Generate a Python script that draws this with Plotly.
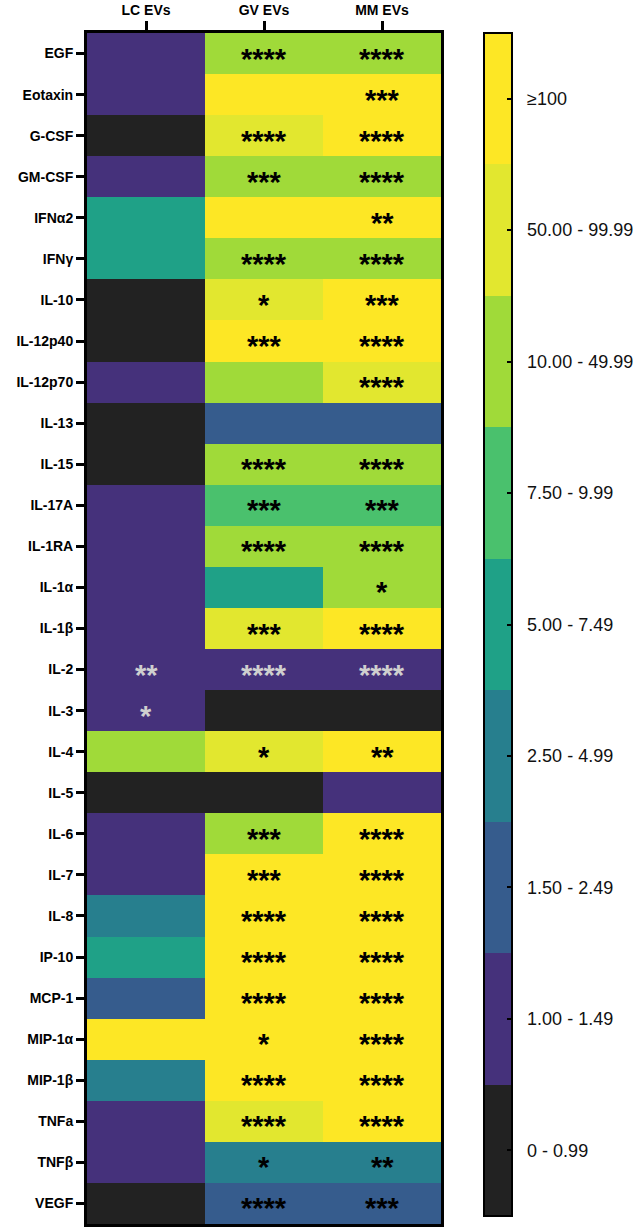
import plotly.graph_objects as go

columns = ["LC EVs", "GV EVs", "MM EVs"]
cytokines = ["EGF", "Eotaxin", "G-CSF", "GM-CSF", "IFNα2", "IFNγ", "IL-10", "IL-12p40",
             "IL-12p70", "IL-13", "IL-15", "IL-17A", "IL-1RA", "IL-1α", "IL-1β", "IL-2",
             "IL-3", "IL-4", "IL-5", "IL-6", "IL-7", "IL-8", "IP-10", "MCP-1", "MIP-1α",
             "MIP-1β", "TNFa", "TNFβ", "VEGF"]

# fold-change bin index per cell (0 = "0 - 0.99" ... 8 = "≥100")
lc_bin = [1, 1, 0, 1, 4, 4, 0, 0, 1, 0, 0, 1, 1, 1, 1, 1, 1, 6, 0, 1, 1, 3, 4, 2, 8, 3, 1, 1, 0]
gv_bin = [6, 8, 7, 6, 8, 6, 7, 8, 6, 2, 6, 5, 6, 4, 7, 1, 0, 7, 0, 6, 8, 8, 8, 8, 8, 8, 7, 3, 2]
mm_bin = [6, 8, 8, 6, 8, 6, 8, 8, 7, 2, 6, 5, 6, 6, 8, 1, 0, 8, 1, 8, 8, 8, 8, 8, 8, 8, 8, 3, 2]

lc_sig = ["", "", "", "", "", "", "", "", "", "", "", "", "", "", "", "**", "*", "", "", "", "", "", "", "", "", "", "", "", ""]
gv_sig = ["****", "", "****", "***", "", "****", "*", "***", "", "", "****", "***", "****", "", "***",
          "****", "", "*", "", "***", "***", "****", "****", "****", "*", "****", "****", "*", "****"]
mm_sig = ["****", "***", "****", "****", "**", "****", "***", "****", "****", "", "****", "***", "****", "*", "****",
          "****", "", "**", "", "****", "****", "****", "****", "****", "****", "****", "****", "**", "***"]

bin_labels = ["0 - 0.99", "1.00 - 1.49", "1.50 - 2.49", "2.50 - 4.99", "5.00 - 7.49",
              "7.50 - 9.99", "10.00 - 49.99", "50.00 - 99.99", "≥100"]
bin_colors = ["#222222", "#45317b", "#365c8d", "#277f8e", "#1fa187",
              "#4ac16d", "#a0da39", "#e2e72f", "#fde725"]

n = len(bin_colors)
colorscale = []
for i, c in enumerate(bin_colors):
    colorscale.append([i / n, c])
    colorscale.append([(i + 1) / n, c])

z = [[lc_bin[i], gv_bin[i], mm_bin[i]] for i in range(len(cytokines))]

fig = go.Figure()
fig.add_trace(go.Heatmap(
    z=z, x=columns, y=cytokines,
    colorscale=colorscale, zmin=-0.5, zmax=n - 0.5,
    xgap=0, ygap=0, hoverinfo="skip",
    colorbar=dict(
        tickvals=list(range(n)), ticktext=["\u00a0\u00a0" + t for t in bin_labels],
        ticks="inside", ticklen=6, tickwidth=2, tickcolor="black",
        outlinewidth=2, outlinecolor="black",
        thickness=28, len=0.993, lenmode="fraction",
        x=1.122, xanchor="left", y=1.0, yanchor="top",
        xpad=0, ypad=0,
        tickfont=dict(family="Liberation Sans, Arial", size=18, color="#111111"),
    ),
))

sigs = [lc_sig, gv_sig, mm_sig]
bins = [lc_bin, gv_bin, mm_bin]
for j, col in enumerate(columns):
    for i, cyt in enumerate(cytokines):
        s = sigs[j][i]
        if not s:
            continue
        color = "#cfcfcf" if bins[j][i] <= 1 else "black"
        fig.add_annotation(x=col, y=cyt, text="<b>" + s + "</b>", showarrow=False,
                           yshift=-5, font=dict(family="Liberation Sans, Arial", size=29, color=color))

fig.update_xaxes(side="top", ticks="outside", ticklen=9, tickwidth=3, tickcolor="black",
                 showline=True, linewidth=3, linecolor="black", mirror=True,
                 range=[-0.5, len(columns) - 0.5], autorange=False,
                 tickvals=columns, ticktext=["<b>" + c + "</b>" for c in columns],
                 tickfont=dict(family="Liberation Sans, Arial", size=14, color="black"),
                 showgrid=False, zeroline=False)
fig.update_yaxes(range=[len(cytokines) - 0.5, -0.5], autorange=False,
                 ticks="outside", ticklen=8, tickwidth=3, tickcolor="black",
                 showline=True, linewidth=3, linecolor="black", mirror=True,
                 tickvals=cytokines, ticktext=["<b>" + c + "</b>" for c in cytokines],
                 tickfont=dict(family="Liberation Sans, Arial", size=14, color="black"),
                 showgrid=False, zeroline=False)

fig.update_layout(width=633, height=1229, margin=dict(l=87, r=192, t=33, b=5, autoexpand=False),
                  plot_bgcolor="white", paper_bgcolor="white", showlegend=False)

fig.write_html("out.html", config={"displayModeBar": False},
               post_script="document.body.style.margin='0';")
